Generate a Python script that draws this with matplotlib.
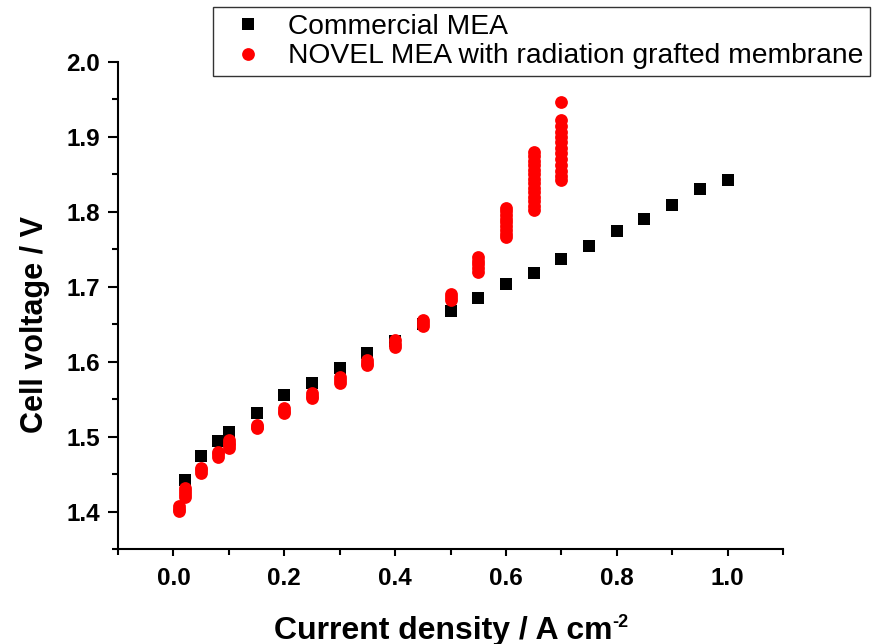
import numpy as np
import matplotlib
matplotlib.use("Agg")
import matplotlib.pyplot as plt
from matplotlib.ticker import MultipleLocator

plt.rcParams['font.family'] = ['Liberation Sans', 'DejaVu Sans']

# Commercial MEA (black squares)
comm_j = [0.02, 0.05, 0.08, 0.10, 0.15, 0.20, 0.25, 0.30, 0.35, 0.40, 0.45,
          0.50, 0.55, 0.60, 0.65, 0.70, 0.75, 0.80, 0.85, 0.90, 0.95, 1.00]
comm_v = [1.442, 1.474, 1.494, 1.506, 1.531, 1.555, 1.572, 1.591, 1.611, 1.628, 1.650,
          1.667, 1.685, 1.704, 1.719, 1.737, 1.754, 1.774, 1.790, 1.809, 1.830, 1.842]

# NOVEL MEA (red circles), repeated measurements at each current density
novel = {
    0.01: [1.401, 1.404, 1.408],
    0.02: [1.420, 1.424, 1.428, 1.431],
    0.05: [1.451, 1.455, 1.458],
    0.08: [1.473, 1.477, 1.480],
    0.10: [1.485, 1.489, 1.492, 1.495],
    0.15: [1.511, 1.513, 1.515],
    0.20: [1.531, 1.534, 1.538],
    0.25: [1.551, 1.554, 1.558],
    0.30: [1.571, 1.575, 1.579],
    0.35: [1.595, 1.598, 1.602],
    0.40: [1.620, 1.624, 1.629],
    0.45: [1.647, 1.651, 1.656],
    0.50: [1.682, 1.686, 1.690],
    0.55: [1.720, 1.725, 1.730, 1.735, 1.740],
    0.60: [1.766, 1.771, 1.776, 1.781, 1.786, 1.791, 1.796, 1.801, 1.805],
    0.65: [1.802, 1.808, 1.814, 1.820, 1.826, 1.832, 1.838, 1.844, 1.850,
           1.856, 1.862, 1.868, 1.874, 1.880],
    0.70: [1.842, 1.848, 1.855, 1.862, 1.870, 1.878, 1.885, 1.893, 1.900,
           1.907, 1.915, 1.922, 1.946],
}
novel_j = [j for j, vs in novel.items() for v in vs]
novel_v = [v for j, vs in novel.items() for v in vs]

fig = plt.figure(figsize=(8.81, 6.44), dpi=100)
ax = fig.add_axes([118/881, 1-549/644, (783-118)/881, (549-62)/644])

ax.plot(comm_j, comm_v, 's', color='black', ms=8.2, mew=0, label='Commercial MEA')
ax.plot(novel_j, novel_v, 'o', color='red', ms=9.2, mew=0,
        label='NOVEL MEA with radiation grafted membrane')

ax.set_xlim(-0.1, 1.1)
ax.set_ylim(1.35, 2.0)
ax.xaxis.set_major_locator(MultipleLocator(0.2))
ax.xaxis.set_minor_locator(MultipleLocator(0.1))
ax.yaxis.set_major_locator(MultipleLocator(0.1))
ax.yaxis.set_minor_locator(MultipleLocator(0.05))

for s in ['top', 'right']:
    ax.spines[s].set_visible(False)
for s in ['left', 'bottom']:
    ax.spines[s].set_linewidth(1.5)

ax.tick_params(axis='y', which='major', length=7, width=1.5, direction='out', pad=6)
ax.tick_params(axis='y', which='minor', length=4, width=1.5, direction='out')
ax.tick_params(axis='x', which='major', length=5, width=1.5, direction='out', pad=8)
ax.tick_params(axis='x', which='minor', length=4, width=1.5, direction='out')
ax.tick_params(labelsize=17.5)
for lab in ax.get_xticklabels() + ax.get_yticklabels():
    lab.set_fontweight('bold')

ax.set_xlabel('Current density / A cm', fontsize=23, fontweight='bold', labelpad=19)
ax.xaxis.label.set_x(0.489)
ax.set_ylabel('Cell voltage / V', fontsize=22, fontweight='bold', labelpad=12)
ax.yaxis.label.set_y(0.46)
ax.annotate('-2', xy=(1.0, 0.52), xycoords=ax.xaxis.label, fontsize=13,
            fontweight='bold', ha='left', va='bottom')

leg = fig.legend(loc='upper left', bbox_to_anchor=(213/881, 1-7/644), fontsize=20.3,
                 frameon=True, fancybox=False, borderpad=0.25, handletextpad=0.45,
                 labelspacing=0.12, handlelength=1.95, borderaxespad=0)
leg.get_frame().set_edgecolor('black')
leg.get_frame().set_linewidth(1.0)

fig.savefig('out.png', dpi=100)
